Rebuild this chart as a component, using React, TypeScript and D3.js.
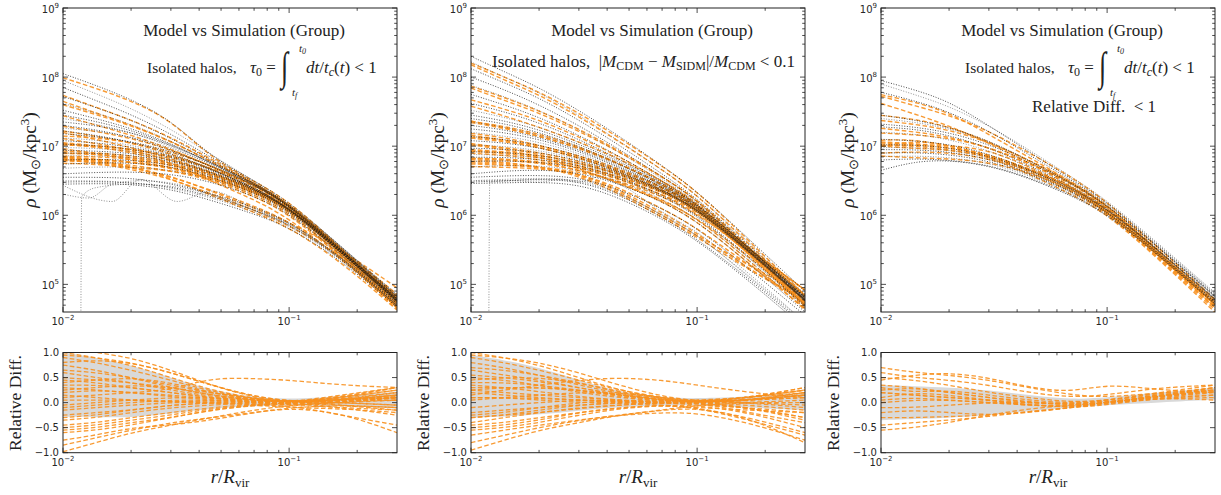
import React from "react";
import * as d3 from "d3";

// ---------------- data ----------------
const R_GRID = [0.01, 0.014, 0.02, 0.03, 0.045, 0.07, 0.1, 0.17, 0.3];

const X_MAJOR = [0.01, 0.1];
const X_MAJOR_EXP = ["−2", "−1"];
const Y_MAJOR = [1e5, 1e6, 1e7, 1e8, 1e9];
const Y_MAJOR_EXP = ["5", "6", "7", "8", "9"];
const DIFF_TICKS = [-1, -0.5, 0, 0.5, 1];
const DIFF_TICK_LABELS = ["−1.0", "−0.5", "0.0", "0.5", "1.0"];

// log10 density of simulated halos (Panel 1)
const P1_SIM = [
  [8.05, 7.88, 7.68, 7.38, 6.85, 6.5, 6.2, 5.55, 4.82],
  [7.95, 7.76, 7.55, 7.25, 6.88, 6.5, 6.17, 5.5, 4.78],
  [7.85, 7.66, 7.46, 7.18, 6.84, 6.48, 6.15, 5.49, 4.77],
  [7.72, 7.56, 7.38, 7.12, 6.8, 6.46, 6.14, 5.5, 4.8],
  [7.62, 7.48, 7.32, 7.08, 6.78, 6.45, 6.15, 5.52, 4.82],
  [7.52, 7.4, 7.26, 7.04, 6.76, 6.44, 6.14, 5.5, 4.79],
  [7.45, 7.36, 7.23, 7.03, 6.76, 6.45, 6.16, 5.53, 4.83],
  [7.4, 7.32, 7.2, 7.0, 6.74, 6.43, 6.13, 5.48, 4.76],
  [7.35, 7.3, 7.2, 7.02, 6.77, 6.47, 6.18, 5.55, 4.85],
  [7.3, 7.24, 7.13, 6.95, 6.71, 6.41, 6.11, 5.47, 4.75],
  [7.26, 7.22, 7.14, 6.98, 6.75, 6.46, 6.17, 5.54, 4.84],
  [7.22, 7.16, 7.06, 6.9, 6.68, 6.39, 6.1, 5.46, 4.74],
  [7.18, 7.14, 7.07, 6.93, 6.72, 6.44, 6.15, 5.52, 4.81],
  [7.12, 7.09, 7.02, 6.88, 6.68, 6.4, 6.12, 5.49, 4.78],
  [7.08, 7.05, 6.99, 6.87, 6.67, 6.4, 6.12, 5.5, 4.79],
  [7.03, 7.01, 6.96, 6.85, 6.66, 6.39, 6.11, 5.48, 4.77],
  [6.98, 6.97, 6.93, 6.83, 6.64, 6.38, 6.1, 5.47, 4.76],
  [6.94, 6.93, 6.9, 6.81, 6.63, 6.38, 6.11, 5.49, 4.79],
  [6.9, 6.9, 6.87, 6.79, 6.62, 6.37, 6.1, 5.48, 4.77],
  [6.86, 6.86, 6.84, 6.77, 6.6, 6.36, 6.09, 5.47, 4.76],
  [6.8, 6.81, 6.8, 6.74, 6.58, 6.35, 6.08, 5.46, 4.75],
  [6.74, 6.76, 6.76, 6.71, 6.56, 6.33, 6.07, 5.46, 4.76],
  [6.68, 6.7, 6.7, 6.66, 6.53, 6.31, 6.05, 5.44, 4.73],
  [6.6, 6.62, 6.63, 6.6, 6.49, 6.28, 6.03, 5.43, 4.72],
  [6.55, 6.55, 6.54, 6.46, 6.32, 6.12, 5.92, 5.4, 4.72],
  [6.5, 6.5, 6.48, 6.4, 6.26, 6.05, 5.86, 5.37, 4.7],
  [6.48, 6.49, 6.47, 6.42, 6.28, 6.08, 5.88, 5.38, 4.69],
  [6.45, 6.46, 6.45, 6.38, 6.22, 6.02, 5.83, 5.35, 4.67],
];
// relative difference (sim - model)/model, one row per simulated halo (Panel 1)
const P1_DIFF = [
  [0.15, 0.1, 0.05, 0.0, 0.05, 0.02, -0.02, 0.05, 0.15],
  [1.0, 0.9, 0.75, 0.5, 0.25, 0.08, 0.0, 0.05, 0.2],
  [0.3, 0.25, 0.2, 0.12, 0.05, 0.02, 0.0, 0.1, 0.25],
  [0.9, 0.8, 0.65, 0.45, 0.22, 0.08, 0.02, 0.05, 0.15],
  [0.05, 0.05, 0.05, 0.02, 0.0, -0.03, -0.05, 0.0, 0.1],
  [1.1, 1.0, 0.9, 0.65, 0.35, 0.1, 0.0, 0.05, 0.1],
  [0.45, 0.4, 0.3, 0.2, 0.1, 0.03, 0.0, 0.05, 0.1],
  [0.95, 0.9, 0.8, 0.6, 0.35, 0.12, 0.03, 0.0, -0.05],
  [0.6, 0.5, 0.4, 0.25, 0.12, 0.05, 0.0, 0.08, 0.2],
  [0.2, 0.25, 0.2, 0.15, 0.08, 0.02, 0.0, 0.02, 0.05],
  [0.75, 0.65, 0.5, 0.3, 0.15, 0.05, 0.0, 0.1, 0.25],
  [0.8, 0.85, 0.8, 0.6, 0.35, 0.12, 0.03, -0.05, -0.15],
  [0.35, 0.35, 0.3, 0.2, 0.1, 0.0, -0.03, 0.0, 0.1],
  [0.65, 0.6, 0.5, 0.35, 0.2, 0.06, 0.0, 0.12, 0.3],
  [0.1, 0.15, 0.2, 0.25, 0.5, 0.48, 0.45, 0.35, 0.3],
  [0.5, 0.45, 0.4, 0.3, 0.15, 0.05, 0.0, 0.1, 0.3],
  [-0.1, -0.05, 0.0, 0.05, 0.05, 0.0, -0.02, -0.05, -0.1],
  [0.25, 0.3, 0.35, 0.3, 0.2, 0.08, 0.02, 0.0, -0.05],
  [0.4, 0.45, 0.5, 0.4, 0.2, 0.05, 0.0, 0.05, 0.15],
  [-0.15, -0.1, -0.05, 0.0, 0.02, 0.0, -0.05, -0.1, -0.15],
  [-0.05, 0.0, 0.05, 0.1, 0.1, 0.05, 0.0, 0.15, 0.3],
  [-0.3, -0.25, -0.15, -0.05, 0.0, -0.05, -0.1, -0.12, -0.2],
  [-0.25, -0.2, -0.15, -0.05, 0.0, 0.02, 0.0, 0.05, 0.1],
  [-0.35, -0.3, -0.2, -0.1, -0.05, 0.0, 0.02, 0.08, 0.12],
  [-0.45, -0.4, -0.3, -0.2, -0.1, -0.03, 0.0, 0.05, 0.05],
  [-0.5, -0.45, -0.35, -0.25, -0.12, -0.05, 0.0, -0.1, -0.25],
  [-0.55, -0.5, -0.4, -0.3, -0.15, -0.05, -0.05, -0.25, -0.45],
  [-0.6, -0.55, -0.45, -0.3, -0.15, -0.05, 0.0, 0.05, 0.1],
];
// relative differences of the irregular halos (Panel 1)
const P1_EXTRA_DIFF = [
  [-0.98, -0.8, -0.6, -0.45, -0.3, -0.15, -0.05, 0.0, 0.05],
  [-0.85, -0.7, -0.55, -0.4, -0.3, -0.2, -0.1, -0.05, -0.1],
  [-0.75, -0.65, -0.5, -0.45, -0.35, -0.2, -0.1, -0.2, -0.6],
];
const P1_BAND_LO = [-0.28, -0.29, -0.3, -0.22, -0.12, -0.07, -0.05, -0.07, -0.12];
const P1_BAND_HI = [1.0, 0.9, 0.75, 0.5, 0.25, 0.1, 0.07, 0.12, 0.22];
// irregular simulated profiles with their own radii (Panel 1)
const P1_EXTRA_R = [
  [0.0102, 0.0165, 0.022, 0.032, 0.045, 0.07, 0.1, 0.17, 0.3],
  [0.0102, 0.013, 0.0165, 0.022, 0.032, 0.045, 0.07, 0.1, 0.17, 0.3],
  [0.01195, 0.0121, 0.014, 0.02, 0.03, 0.045, 0.07, 0.1, 0.17, 0.3],
];
const P1_EXTRA_SIM = [
  [6.42, 6.2, 6.52, 6.2, 6.35, 6.1, 5.88, 5.38, 4.7],
  [6.3, 6.25, 6.45, 6.5, 6.45, 6.3, 6.07, 5.86, 5.37, 4.69],
  [3.0, 6.27, 6.4, 6.45, 6.42, 6.3, 6.08, 5.87, 5.37, 4.69],
];

// Panel 2
const P2_SIM = [
  [8.3, 8.08, 7.85, 7.52, 7.15, 6.72, 6.35, 5.65, 4.9],
  [8.22, 8.0, 7.78, 7.45, 7.08, 6.66, 6.3, 5.6, 4.86],
  [8.12, 7.92, 7.7, 7.38, 7.02, 6.6, 6.25, 5.56, 4.83],
  [8.0, 7.82, 7.6, 7.3, 6.96, 6.56, 6.22, 5.54, 4.81],
  [7.88, 7.72, 7.52, 7.24, 6.92, 6.53, 6.2, 5.53, 4.8],
  [7.75, 7.6, 7.42, 7.16, 6.86, 6.5, 6.18, 5.52, 4.8],
  [7.62, 7.5, 7.34, 7.1, 6.82, 6.48, 6.17, 5.52, 4.8],
  [7.52, 7.42, 7.28, 7.06, 6.8, 6.47, 6.17, 5.53, 4.82],
  [7.45, 7.37, 7.24, 7.03, 6.78, 6.46, 6.16, 5.52, 4.81],
  [7.4, 7.33, 7.2, 7.0, 6.75, 6.44, 6.14, 5.5, 4.79],
  [7.35, 7.28, 7.17, 6.98, 6.74, 6.44, 6.15, 5.51, 4.8],
  [7.3, 7.24, 7.13, 6.95, 6.72, 6.42, 6.13, 5.5, 4.78],
  [7.25, 7.2, 7.1, 6.93, 6.7, 6.41, 6.12, 5.49, 4.78],
  [7.2, 7.15, 7.06, 6.9, 6.68, 6.4, 6.12, 5.49, 4.78],
  [7.14, 7.1, 7.02, 6.87, 6.66, 6.38, 6.1, 5.48, 4.77],
  [7.08, 7.05, 6.98, 6.84, 6.64, 6.37, 6.1, 5.48, 4.77],
  [7.02, 7.0, 6.94, 6.82, 6.63, 6.37, 6.1, 5.48, 4.77],
  [6.97, 6.96, 6.91, 6.8, 6.62, 6.36, 6.09, 5.47, 4.76],
  [6.92, 6.91, 6.87, 6.77, 6.6, 6.35, 6.08, 5.47, 4.76],
  [6.88, 6.87, 6.84, 6.75, 6.58, 6.34, 6.07, 5.46, 4.75],
  [6.84, 6.84, 6.81, 6.73, 6.56, 6.3, 6.02, 5.4, 4.7],
  [6.78, 6.79, 6.77, 6.7, 6.54, 6.28, 6.0, 5.38, 4.68],
  [6.7, 6.72, 6.72, 6.66, 6.5, 6.24, 5.96, 5.35, 4.65],
  [6.6, 6.64, 6.66, 6.62, 6.46, 6.2, 5.92, 5.3, 4.6],
  [6.55, 6.57, 6.58, 6.55, 6.38, 6.1, 5.82, 5.22, 4.55],
  [6.5, 6.52, 6.54, 6.52, 6.32, 6.02, 5.72, 5.12, 4.45],
  [6.48, 6.5, 6.52, 6.5, 6.3, 5.98, 5.66, 5.08, 4.4],
  [6.46, 6.47, 6.48, 6.45, 6.26, 5.95, 5.64, 5.05, 4.36],
];
const P2_DIFF = [
  [0.25, 0.2, 0.15, 0.1, 0.05, 0.02, 0.0, 0.05, 0.15],
  [0.1, 0.1, 0.08, 0.05, 0.02, 0.0, 0.0, 0.05, 0.1],
  [0.9, 0.8, 0.65, 0.45, 0.25, 0.1, 0.03, 0.05, 0.15],
  [0.35, 0.3, 0.22, 0.12, 0.05, 0.0, -0.02, 0.05, 0.15],
  [1.0, 0.9, 0.75, 0.5, 0.25, 0.08, 0.0, 0.05, 0.2],
  [0.2, 0.15, 0.1, 0.05, 0.02, 0.0, 0.02, 0.1, 0.25],
  [0.8, 0.7, 0.55, 0.35, 0.18, 0.05, 0.0, 0.05, 0.2],
  [0.5, 0.45, 0.35, 0.2, 0.1, 0.03, 0.0, 0.1, 0.3],
  [0.95, 0.9, 0.8, 0.6, 0.35, 0.12, 0.03, 0.0, -0.05],
  [0.1, 0.1, 0.05, 0.0, 0.0, -0.02, 0.0, 0.05, 0.1],
  [0.65, 0.55, 0.45, 0.3, 0.15, 0.05, 0.02, 0.1, 0.25],
  [0.3, 0.3, 0.3, 0.25, 0.15, 0.05, 0.0, -0.05, -0.15],
  [0.7, 0.65, 0.55, 0.4, 0.22, 0.08, 0.0, 0.1, 0.25],
  [0.45, 0.5, 0.5, 0.4, 0.2, 0.05, 0.0, 0.05, 0.15],
  [0.55, 0.5, 0.42, 0.3, 0.15, 0.05, 0.0, 0.1, 0.3],
  [0.15, 0.25, 0.35, 0.45, 0.5, 0.45, 0.35, 0.2, 0.1],
  [-0.2, -0.15, -0.1, -0.05, 0.0, 0.03, 0.05, 0.1, 0.2],
  [0.4, 0.4, 0.35, 0.25, 0.12, 0.02, -0.02, -0.1, -0.3],
  [0.05, 0.1, 0.15, 0.2, 0.2, 0.1, 0.02, -0.1, -0.3],
  [-0.1, -0.05, 0.0, 0.05, 0.05, 0.0, -0.05, -0.1, -0.2],
  [0.25, 0.3, 0.3, 0.25, 0.15, 0.05, 0.0, -0.2, -0.4],
  [-0.3, -0.25, -0.15, -0.05, 0.0, -0.05, -0.1, -0.15, -0.2],
  [-0.25, -0.2, -0.1, 0.0, 0.05, 0.02, 0.0, 0.0, 0.05],
  [-0.4, -0.3, -0.2, -0.1, -0.05, 0.0, 0.0, 0.0, -0.1],
  [-0.3, -0.25, -0.2, -0.12, -0.05, 0.0, 0.0, -0.1, -0.35],
  [-0.45, -0.4, -0.3, -0.2, -0.1, -0.05, -0.05, -0.2, -0.5],
  [-0.5, -0.45, -0.35, -0.2, -0.1, -0.05, -0.1, -0.35, -0.65],
  [-0.55, -0.5, -0.4, -0.25, -0.12, -0.05, -0.1, -0.3, -0.6],
];
const P2_EXTRA_DIFF = [
  [-0.95, -0.75, -0.55, -0.4, -0.25, -0.15, -0.05, 0.0, 0.0],
  [-0.8, -0.65, -0.5, -0.35, -0.25, -0.15, -0.1, -0.3, -0.8],
  [-0.65, -0.55, -0.45, -0.35, -0.25, -0.2, -0.2, -0.4, -0.75],
];
const P2_BAND_LO = [-0.3, -0.28, -0.24, -0.16, -0.09, -0.05, -0.05, -0.1, -0.15];
const P2_BAND_HI = [0.95, 0.85, 0.7, 0.45, 0.22, 0.1, 0.08, 0.12, 0.2];
const P2_EXTRA_R = [
  [0.01195, 0.0121, 0.015, 0.02, 0.03, 0.045, 0.07, 0.1, 0.17, 0.3],
  [0.0105, 0.015, 0.02, 0.025, 0.03, 0.036, 0.045, 0.07, 0.1, 0.17, 0.3],
];
const P2_EXTRA_SIM = [
  [3.0, 6.48, 6.5, 6.52, 6.5, 6.32, 6.0, 5.7, 5.1, 4.42],
  [6.5, 6.5, 6.48, 6.52, 6.48, 6.55, 6.45, 6.05, 5.75, 5.15, 4.45],
];

// Panel 3
const P3_SIM = [
  [7.95, 7.82, 7.65, 7.3, 6.92, 6.52, 6.2, 5.56, 4.86],
  [7.9, 7.75, 7.58, 7.3, 6.95, 6.55, 6.22, 5.58, 4.88],
  [7.78, 7.66, 7.5, 7.22, 6.88, 6.5, 6.18, 5.54, 4.84],
  [7.45, 7.38, 7.28, 7.08, 6.8, 6.47, 6.16, 5.53, 4.83],
  [7.4, 7.35, 7.26, 7.07, 6.79, 6.46, 6.15, 5.52, 4.82],
  [7.32, 7.28, 7.2, 7.03, 6.77, 6.45, 6.15, 5.52, 4.82],
  [7.28, 7.25, 7.16, 6.98, 6.73, 6.42, 6.12, 5.49, 4.79],
  [7.2, 7.18, 7.1, 6.94, 6.7, 6.4, 6.11, 5.49, 4.8],
  [7.1, 7.08, 7.03, 6.89, 6.67, 6.39, 6.1, 5.48, 4.78],
  [7.02, 7.02, 6.98, 6.86, 6.66, 6.38, 6.1, 5.48, 4.78],
  [6.98, 6.98, 6.95, 6.84, 6.64, 6.37, 6.09, 5.47, 4.77],
  [6.95, 6.95, 6.92, 6.82, 6.62, 6.35, 6.07, 5.45, 4.75],
  [6.9, 6.91, 6.88, 6.79, 6.6, 6.34, 6.06, 5.44, 4.74],
  [6.85, 6.86, 6.84, 6.76, 6.58, 6.32, 6.05, 5.43, 4.73],
  [6.8, 6.82, 6.8, 6.73, 6.55, 6.3, 6.03, 5.42, 4.72],
  [6.65, 6.78, 6.8, 6.72, 6.54, 6.28, 6.02, 5.41, 4.71],
];
const P3_DIFF = [
  [0.6, 0.5, 0.45, 0.35, 0.2, 0.1, 0.15, 0.3, 0.35],
  [0.5, 0.45, 0.35, 0.2, 0.1, 0.0, 0.05, 0.15, 0.25],
  [0.45, 0.55, 0.6, 0.5, 0.3, 0.2, 0.38, 0.25, 0.2],
  [0.2, 0.15, 0.1, 0.05, 0.0, -0.05, 0.0, 0.1, 0.2],
  [-0.1, -0.1, -0.05, 0.0, 0.0, -0.02, 0.02, 0.12, 0.25],
  [0.35, 0.3, 0.2, 0.1, 0.02, -0.05, 0.0, 0.15, 0.3],
  [0.05, 0.1, 0.05, 0.0, -0.05, -0.08, 0.0, 0.12, 0.22],
  [0.3, 0.2, 0.25, 0.15, 0.05, -0.02, 0.05, 0.2, 0.35],
  [0.25, 0.3, 0.2, 0.1, 0.0, -0.05, 0.05, 0.18, 0.3],
  [0.0, 0.05, 0.05, 0.0, -0.05, -0.08, 0.0, 0.12, 0.22],
  [0.2, 0.15, 0.1, 0.05, -0.05, -0.1, -0.05, 0.1, 0.15],
  [-0.2, -0.15, -0.2, -0.25, -0.2, -0.1, 0.0, 0.08, 0.1],
  [0.1, 0.2, 0.15, 0.05, -0.05, -0.1, 0.02, 0.1, 0.05],
  [-0.3, -0.3, -0.28, -0.25, -0.18, -0.1, 0.0, 0.15, 0.25],
  [-0.45, -0.4, -0.35, -0.28, -0.18, -0.1, -0.02, 0.08, 0.15],
  [-0.55, -0.5, -0.4, -0.25, -0.12, -0.05, 0.0, 0.12, 0.3],
];
const P3_EXTRA_DIFF = [
  [0.7, 0.6, 0.55, 0.45, 0.3, 0.15, 0.1, 0.2, 0.25],
];
const P3_BAND_LO = [-0.35, -0.33, -0.3, -0.25, -0.17, -0.1, -0.05, 0.0, 0.06];
const P3_BAND_HI = [0.35, 0.33, 0.3, 0.25, 0.15, 0.06, 0.1, 0.2, 0.3];
const P3_EXTRA_R: number[][] = [];
const P3_EXTRA_SIM: number[][] = [];

// ---------------- layout ----------------
const W = 1221;
const H = 495;
const PW = 334;
const TOP_T = 8;
const TOP_B = 312;
const BOT_T = 352.5;
const BOT_B = 452.7;
const X_DOMAIN = [0.01, 0.3];
const Y_DOMAIN = [Math.pow(10, 4.6), 1e9];

const SERIF = "'Liberation Serif', 'Times New Roman', serif";
const SANS = "'DejaVu Sans', sans-serif";
const ORANGE = "#f7901e";
const TICK_COLOR = "#262626";
const ANN = 17;

const PANELS = [
  { left: 63, sim: P1_SIM, diff: P1_DIFF, exD: P1_EXTRA_DIFF, lo: P1_BAND_LO, hi: P1_BAND_HI, exR: P1_EXTRA_R, exS: P1_EXTRA_SIM, kind: 0 },
  { left: 471, sim: P2_SIM, diff: P2_DIFF, exD: P2_EXTRA_DIFF, lo: P2_BAND_LO, hi: P2_BAND_HI, exR: P2_EXTRA_R, exS: P2_EXTRA_SIM, kind: 1 },
  { left: 881, sim: P3_SIM, diff: P3_DIFF, exD: P3_EXTRA_DIFF, lo: P3_BAND_LO, hi: P3_BAND_HI, exR: P3_EXTRA_R, exS: P3_EXTRA_SIM, kind: 2 },
];

function Sup10({ x, y, exp, anchor }: { x: number; y: number; exp: string; anchor: string }) {
  return (
    <text x={x} y={y} fontFamily={SANS} fontSize={10} fill={TICK_COLOR} textAnchor={anchor}>
      10<tspan fontSize={7} dy={-5}>{exp}</tspan>
    </text>
  );
}

function TauLine() {
  return (
    <g fontFamily={SERIF} fill="#222">
      <text x={84} y={73} fontSize={15.5}>Isolated halos,</text>
      <text x={187} y={73} fontSize={ANN}>
        <tspan fontStyle="italic">τ</tspan>
        <tspan fontSize={12} dy={3}>0</tspan>
        <tspan dy={-3}> =</tspan>
      </text>
      <text transform="translate(218,80) scale(1,1.55)" fontSize={26}>∫</text>
      <text x={236} y={52} fontSize={11} fontStyle="italic">t<tspan fontSize={8} dy={2}>0</tspan></text>
      <text x={229} y={96} fontSize={11} fontStyle="italic">t<tspan fontSize={8} dy={2}>f</tspan></text>
      <text x={243} y={73} fontSize={ANN}>
        <tspan fontStyle="italic">dt</tspan>/<tspan fontStyle="italic">t</tspan>
        <tspan fontSize={12} fontStyle="italic" dy={3}>c</tspan>
        <tspan dy={-3}>(</tspan><tspan fontStyle="italic">t</tspan>) &lt; 1
      </text>
    </g>
  );
}

function MassLine() {
  return (
    <text x={21} y={67} fontFamily={SERIF} fontSize={ANN} fill="#222" style={{ whiteSpace: "pre" }}>
      {"Isolated halos,  |"}<tspan fontStyle="italic">M</tspan>
      <tspan fontSize={12} dy={3}>CDM</tspan>
      <tspan dy={-3}>{" − "}</tspan><tspan fontStyle="italic">M</tspan>
      <tspan fontSize={12} dy={3}>SIDM</tspan>
      <tspan dy={-3}>|/</tspan><tspan fontStyle="italic">M</tspan>
      <tspan fontSize={12} dy={3}>CDM</tspan>
      <tspan dy={-3}>{" < 0.1"}</tspan>
    </text>
  );
}

function Panel({ p, i }: { p: (typeof PANELS)[number]; i: number }) {
  const L = p.left;
  const R = L + PW;
  const x = d3.scaleLog().domain(X_DOMAIN).range([L, R]);
  const yT = d3.scaleLog().domain(Y_DOMAIN).range([TOP_B, TOP_T]);
  const yB = d3.scaleLinear().domain([-1, 1]).range([BOT_B, BOT_T]);

  const lineTop = d3
    .line<[number, number]>()
    .x((d) => x(d[0]))
    .y((d) => yT(Math.pow(10, d[1])))
    .curve(d3.curveBasis);
  const lineTopRaw = d3
    .line<[number, number]>()
    .x((d) => x(d[0]))
    .y((d) => yT(Math.pow(10, d[1])))
    .curve(d3.curveMonotoneX);
  const lineBot = d3
    .line<[number, number]>()
    .x((d) => x(d[0]))
    .y((d) => yB(d[1]))
    .curve(d3.curveBasis);
  const band = d3
    .area<number>()
    .x((_, j) => x(R_GRID[j]))
    .y0((_, j) => yB(p.lo[j]))
    .y1((_, j) => yB(p.hi[j]))
    .curve(d3.curveBasis);

  // model = sim / (1 + relative difference)
  const models = p.sim.map((s, k) => s.map((v, j) => v - Math.log10(1 + p.diff[k][j])));
  const allDiffs = [...p.diff, ...p.exD];

  const xMinor: number[] = [];
  [0.01, 0.1].forEach((dec) => {
    for (let m = 2; m <= 9; m++) {
      const v = m * dec;
      if (v < X_DOMAIN[1] * 0.99) xMinor.push(v);
    }
  });
  const yMinor: number[] = [];
  for (let e = 4; e <= 8; e++) {
    for (let m = 2; m <= 9; m++) {
      const v = m * Math.pow(10, e);
      const py = yT(v);
      if (py < TOP_B - 2 && py > TOP_T + 2) yMinor.push(v);
    }
  }

  const xTicksFor = (y0: number, y1: number) => (
    <g stroke="#222" strokeWidth={0.8}>
      {X_MAJOR.map((v) => (
        <g key={"M" + v}>
          <line x1={x(v)} x2={x(v)} y1={y1} y2={y1 - 5} />
          <line x1={x(v)} x2={x(v)} y1={y0} y2={y0 + 5} />
        </g>
      ))}
      {xMinor.map((v) => (
        <g key={"m" + v}>
          <line x1={x(v)} x2={x(v)} y1={y1} y2={y1 - 2.8} />
          <line x1={x(v)} x2={x(v)} y1={y0} y2={y0 + 2.8} />
        </g>
      ))}
    </g>
  );

  return (
    <g>
      <defs>
        <clipPath id={`ct${i}`}>
          <rect x={L} y={TOP_T} width={PW} height={TOP_B - TOP_T} />
        </clipPath>
        <clipPath id={`cb${i}`}>
          <rect x={L} y={BOT_T} width={PW} height={BOT_B - BOT_T} />
        </clipPath>
      </defs>

      {/* top panel curves */}
      <g clipPath={`url(#ct${i})`} fill="none">
        {models.map((m, k) => (
          <path
            key={"mo" + k}
            d={lineTop(m.map((v, j) => [R_GRID[j], v] as [number, number])) || ""}
            stroke={ORANGE}
            strokeWidth={1.4}
            strokeDasharray="4.5,2.5"
            strokeOpacity={0.9}
          />
        ))}
        {p.sim.map((s, k) => (
          <path
            key={"si" + k}
            d={lineTop(s.map((v, j) => [R_GRID[j], v] as [number, number])) || ""}
            stroke="#111"
            strokeWidth={1}
            strokeDasharray="1,1.6"
            strokeOpacity={k % 3 === 1 ? 0.45 : 0.75}
          />
        ))}
        {p.exS.map((s, k) => (
          <path
            key={"ex" + k}
            d={lineTopRaw(s.map((v, j) => [p.exR[k][j], v] as [number, number])) || ""}
            stroke="#444"
            strokeWidth={1}
            strokeDasharray="1,1.6"
            strokeOpacity={0.6}
          />
        ))}
      </g>

      {/* bottom panel */}
      <g clipPath={`url(#cb${i})`}>
        <path d={band(p.lo) || ""} fill="#d9d9d9" stroke="none" />
        <g fill="none">
          {allDiffs.map((dd, k) => (
            <path
              key={"df" + k}
              d={lineBot(dd.map((v, j) => [R_GRID[j], v] as [number, number])) || ""}
              stroke={ORANGE}
              strokeWidth={1.3}
              strokeDasharray="4.5,2.5"
              strokeOpacity={0.9}
            />
          ))}
        </g>
      </g>

      {/* frames */}
      <rect x={L} y={TOP_T} width={PW} height={TOP_B - TOP_T} fill="none" stroke="#222" strokeWidth={1} />
      <rect x={L} y={BOT_T} width={PW} height={BOT_B - BOT_T} fill="none" stroke="#222" strokeWidth={1} />

      {/* ticks top */}
      {xTicksFor(TOP_T, TOP_B)}
      <g stroke="#222" strokeWidth={0.8}>
        {Y_MAJOR.map((v) => (
          <g key={"ym" + v}>
            <line x1={L} x2={L + 5} y1={yT(v)} y2={yT(v)} />
            <line x1={R} x2={R - 5} y1={yT(v)} y2={yT(v)} />
          </g>
        ))}
        {yMinor.map((v) => (
          <g key={"yn" + v}>
            <line x1={L} x2={L + 2.8} y1={yT(v)} y2={yT(v)} />
            <line x1={R} x2={R - 2.8} y1={yT(v)} y2={yT(v)} />
          </g>
        ))}
      </g>
      {/* ticks bottom */}
      {xTicksFor(BOT_T, BOT_B)}
      <g stroke="#222" strokeWidth={0.8}>
        {DIFF_TICKS.map((v) => (
          <g key={"dt" + v}>
            <line x1={L} x2={L + 5} y1={yB(v)} y2={yB(v)} />
            <line x1={R} x2={R - 5} y1={yB(v)} y2={yB(v)} />
          </g>
        ))}
      </g>

      {/* tick labels */}
      {Y_MAJOR.map((v, k) => (
        <Sup10 key={"yl" + v} x={L - 4} y={yT(v) + 5} exp={Y_MAJOR_EXP[k]} anchor="end" />
      ))}
      {X_MAJOR.map((v, k) => (
        <Sup10 key={"xl" + v} x={x(v)} y={TOP_B + 13} exp={X_MAJOR_EXP[k]} anchor="middle" />
      ))}
      {X_MAJOR.map((v, k) => (
        <Sup10 key={"xb" + v} x={x(v)} y={BOT_B + 13} exp={X_MAJOR_EXP[k]} anchor="middle" />
      ))}
      {DIFF_TICKS.map((v, k) => (
        <text key={"dl" + v} x={L - 4} y={yB(v) + 3.5} fontFamily={SANS} fontSize={10} fill={TICK_COLOR} textAnchor="end">
          {DIFF_TICK_LABELS[k]}
        </text>
      ))}

      {/* axis labels */}
      <text transform={`translate(${L - 27},${160}) rotate(-90)`} fontFamily={SERIF} fontSize={19.5} textAnchor="middle" fill="#222">
        <tspan fontStyle="italic">ρ</tspan> (M<tspan fontSize={13} dy={4}>⊙</tspan>
        <tspan dy={-4}>/kpc</tspan><tspan fontSize={13} dy={-7}>3</tspan><tspan dy={7}>)</tspan>
      </text>
      <text transform={`translate(${L - 42},${403}) rotate(-90)`} fontFamily={SERIF} fontSize={17.5} textAnchor="middle" fill="#222">
        Relative Diff.
      </text>
      <text x={L + PW / 2} y={483} fontFamily={SERIF} fontSize={19} textAnchor="middle" fill="#222">
        <tspan fontStyle="italic">r</tspan>/<tspan fontStyle="italic">R</tspan>
        <tspan fontSize={13} dy={4}>vir</tspan>
      </text>

      {/* annotations */}
      <g transform={`translate(${L},0)`}>
        <text x={181} y={36} fontFamily={SERIF} fontSize={ANN} textAnchor="middle" fill="#222">
          Model vs Simulation (Group)
        </text>
        {p.kind === 1 ? <MassLine /> : <TauLine />}
        {p.kind === 2 && (
          <text x={151} y={112} fontFamily={SERIF} fontSize={ANN} fill="#222" style={{ whiteSpace: "pre" }}>
            {"Relative Diff.  < 1"}
          </text>
        )}
      </g>
    </g>
  );
}

export default function App() {
  return (
    <svg
      width={W}
      height={H}
      viewBox={`0 0 ${W} ${H}`}
      style={{ position: "absolute", left: 0, top: 0, background: "#fff" }}
    >
      <rect x={0} y={0} width={W} height={H} fill="#fff" />
      {PANELS.map((p, i) => (
        <Panel key={i} p={p} i={i} />
      ))}
    </svg>
  );
}
